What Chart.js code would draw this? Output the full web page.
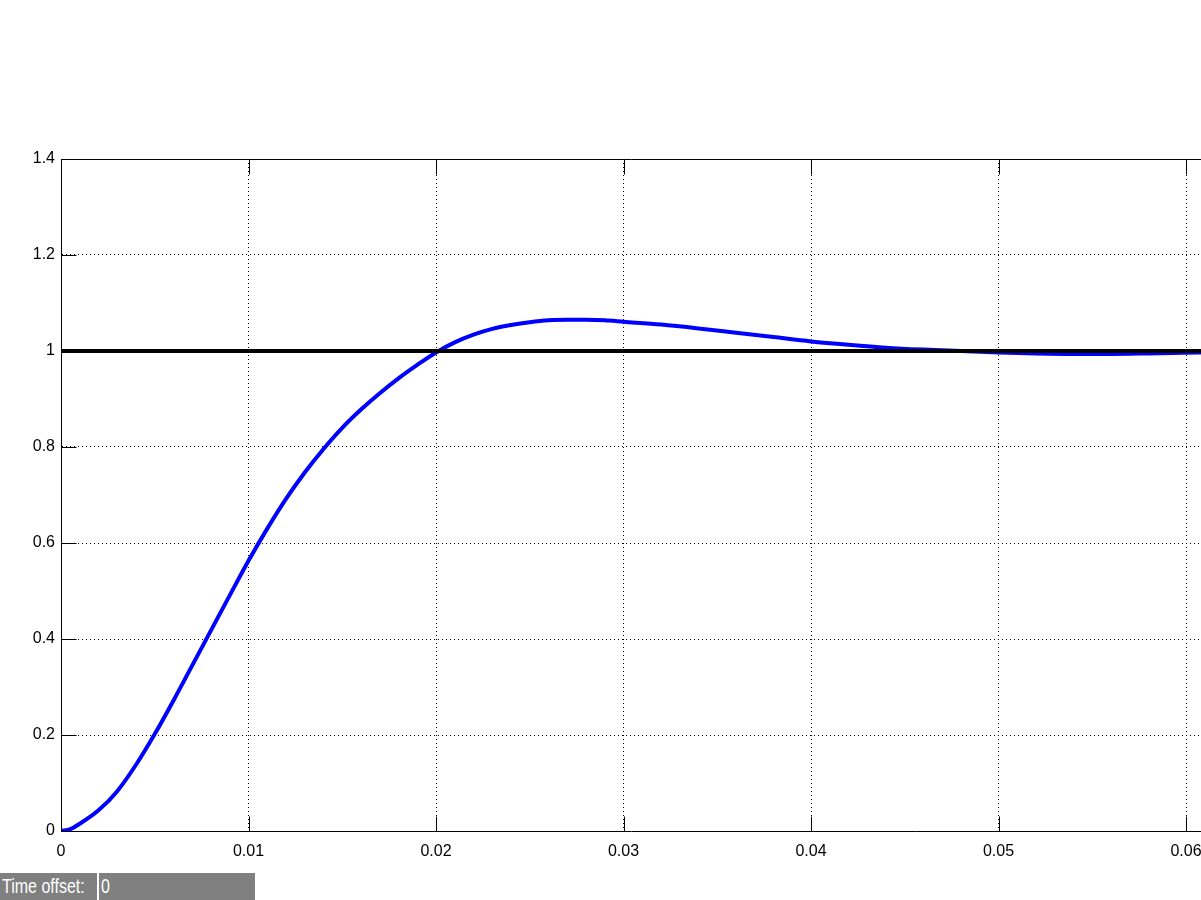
<!DOCTYPE html>
<html>
<head>
<meta charset="utf-8">
<script src="https://cdn.jsdelivr.net/npm/chart.js@4.4.1/dist/chart.umd.min.js"></script>
<style>
  body { margin: 0; background: #fff; width: 1201px; height: 900px; overflow: hidden; }
  #wrap { position: absolute; left: 0; top: 0; width: 1201px; height: 873px; }
  .bar { position: absolute; top: 873px; height: 27px; background: #808080; overflow: hidden; }
  .bar span { position: absolute; top: 0; color: #fff; white-space: nowrap;
              font: 20px "Liberation Sans", Arial, sans-serif; line-height: 27px;
              transform: scaleX(0.8); transform-origin: left center; }
</style>
</head>
<body>
<div id="wrap"><canvas id="scope"></canvas></div>
<div class="bar" style="left:0;width:97px;"><span style="left:2px;">Time offset:</span></div>
<div class="bar" style="left:99px;width:156px;"><span style="left:2px;">0</span></div>
<script>
const time = [0, 0.0005, 0.001, 0.002, 0.003, 0.004, 0.005, 0.006, 0.007, 0.008, 0.009,
  0.010, 0.011, 0.012, 0.013, 0.014, 0.015, 0.016, 0.017, 0.018, 0.019,
  0.020, 0.021, 0.022, 0.023, 0.024, 0.025, 0.026, 0.027, 0.028, 0.029,
  0.030, 0.032, 0.034, 0.036, 0.038, 0.040, 0.042, 0.044, 0.046, 0.048,
  0.050, 0.052, 0.054, 0.056, 0.058, 0.0608];
const response = [0, 0.004, 0.015, 0.043, 0.083, 0.138, 0.202, 0.272, 0.345, 0.418, 0.491,
  0.563, 0.630, 0.692, 0.747, 0.796, 0.840, 0.878, 0.912, 0.943, 0.971,
  0.997, 1.018, 1.034, 1.046, 1.054, 1.060, 1.064, 1.065, 1.065, 1.064,
  1.061, 1.055, 1.047, 1.038, 1.029, 1.020, 1.013, 1.007, 1.003, 1.000,
  0.997, 0.995, 0.994, 0.994, 0.995, 0.997];
const setpoint = [1, 1];
const setpointTime = [0, 0.0608];

const xMax = 0.0608;
const xTicks = [0, 0.01, 0.02, 0.03, 0.04, 0.05, 0.06];
const yTicks = [0, 0.2, 0.4, 0.6, 0.8, 1, 1.2, 1.4];

// MATLAB style: solid box on top, ticks pointing inward
const scopeFrame = {
  id: 'scopeFrame',
  afterDraw(chart) {
    const ctx = chart.ctx;
    const area = chart.chartArea;
    const xs = chart.scales.x;
    const ys = chart.scales.y;
    const len = 15;
    ctx.save();
    ctx.strokeStyle = '#000';
    ctx.lineWidth = 1;
    ctx.beginPath();
    const top = Math.round(area.top) + 0.5;
    const bottom = Math.round(area.bottom) + 0.5;
    const left = Math.round(area.left) + 0.5;
    ctx.moveTo(left, top);
    ctx.lineTo(area.right + 1, top);
    xs.ticks.forEach(t => {
      const px = Math.round(xs.getPixelForValue(t.value)) + 0.5;
      ctx.moveTo(px, top);
      ctx.lineTo(px, top + len);
      ctx.moveTo(px, bottom);
      ctx.lineTo(px, bottom - len);
    });
    ys.ticks.forEach(t => {
      const py = Math.round(ys.getPixelForValue(t.value)) + 0.5;
      ctx.moveTo(left, py);
      ctx.lineTo(left + len, py);
    });
    ctx.stroke();
    ctx.restore();
  }
};

const tickFont = { family: '"Liberation Sans", Arial, sans-serif', size: 16 };

new Chart(document.getElementById('scope'), {
  type: 'line',
  data: {
    datasets: [
      {
        data: setpointTime.map((t, i) => ({ x: t, y: setpoint[i] })),
        borderColor: '#000000',
        borderWidth: 4,
        pointRadius: 0,
        order: 0
      },
      {
        data: time.map((t, i) => ({ x: t, y: response[i] })),
        borderColor: '#0000ff',
        borderWidth: 4,
        pointRadius: 0,
        cubicInterpolationMode: 'monotone',
        order: 1
      }
    ]
  },
  options: {
    responsive: true,
    maintainAspectRatio: false,
    animation: false,
    layout: { padding: { top: 159, left: 0, right: 0, bottom: 0 } },
    plugins: { legend: { display: false }, tooltip: { enabled: false } },
    scales: {
      x: {
        type: 'linear',
        min: 0,
        max: xMax,
        afterFit: s => { s.height = 42; s.paddingLeft = 0; s.paddingRight = 0; },
        afterBuildTicks: s => { s.ticks = xTicks.map(v => ({ value: v })); },
        ticks: {
          color: '#000',
          font: tickFont,
          padding: 11,
          maxRotation: 0,
          autoSkip: false,
          callback: v => String(+v.toFixed(3))
        },
        grid: { color: '#000', lineWidth: 1, drawTicks: false },
        border: { color: '#000', width: 1, dash: [1, 3] }
      },
      y: {
        min: 0,
        max: 1.4,
        afterFit: s => { s.width = 61; s.paddingTop = 0; s.paddingBottom = 0; },
        afterBuildTicks: s => { s.ticks = yTicks.map(v => ({ value: v })); },
        ticks: {
          color: '#000',
          font: tickFont,
          padding: 6,
          callback: v => String(+v.toFixed(1))
        },
        grid: { color: '#000', lineWidth: 1, drawTicks: false },
        border: { color: '#000', width: 1, dash: [1, 3] }
      }
    }
  },
  plugins: [scopeFrame]
});
</script>
</body>
</html>
